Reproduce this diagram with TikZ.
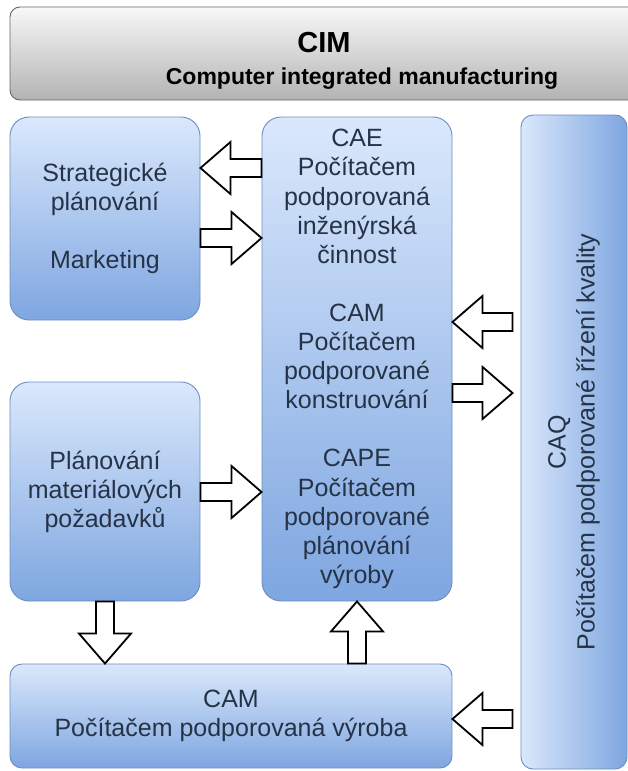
\documentclass[tikz,border=0pt]{standalone}
\usepackage{fontspec}
\setmainfont{Liberation Sans}
\usetikzlibrary{calc}

\definecolor{boxtop}{HTML}{DAE8FC}
\definecolor{boxbot}{HTML}{7EA6E0}
\definecolor{boxline}{HTML}{6C8EBF}
\definecolor{hdrtop}{HTML}{F8F8F8}
\definecolor{hdrbot}{HTML}{B3B3B3}
\definecolor{hdrline}{HTML}{666666}
\definecolor{txt}{HTML}{263347}

% hollow block arrow from coordinate #1 (tail) to coordinate #2 (tip)
\newcommand\fatarrow[2]{%
  \coordinate (fa-h) at ($(#2)!30pt!(#1)$);
  \draw[fatarrow] ($(#1)!9pt!90:(#2)$) -- ($(fa-h)!9pt!90:(#2)$)
    -- ($(fa-h)!26pt!90:(#2)$) -- (#2) -- ($(fa-h)!26pt!-90:(#2)$)
    -- ($(fa-h)!9pt!-90:(#2)$) -- ($(#1)!9pt!-90:(#2)$) -- cycle;
}

\begin{document}
\begin{tikzpicture}[x=1pt,y=-1pt,
  bodytext/.style={text=txt, align=center, font=\fontsize{25}{29.1}\selectfont},
  blkbase/.style={draw=boxline, line width=0.9pt, rounded corners=#1, inner sep=0pt, bodytext},
  blk/.style={blkbase=#1, top color=boxtop, bottom color=boxbot},
  blkh/.style={blkbase=#1, left color=boxtop, right color=boxbot},
  hdrbox/.style={draw=hdrline, line width=0.9pt, top color=hdrtop, bottom color=hdrbot,
    rounded corners=10pt, inner sep=0pt},
  fatarrow/.style={draw=black, fill=white, line width=1.8pt, line join=miter}]

\useasboundingbox (0,0) rectangle (628,771);
\clip (0,0) rectangle (628,771);

% header
\node[hdrbox, minimum width=630pt, minimum height=93pt] (hdr) at (325,53.5) {};
\node[font=\fontsize{29}{32}\bfseries\selectfont, anchor=base] (cim) at (324,52) {CIM};
\node[font=\fontsize{23}{26}\bfseries\selectfont, anchor=base] (cimsub) at (362,84)
  {Computer integrated manufacturing};

% blocks
\node[blk=19pt, minimum width=190pt, minimum height=203pt] (strat) at (105,218.5)
  {Strategické\\plánování\\[29.1pt]Marketing};
\node[blk=19pt, minimum width=190pt, minimum height=219pt] (mat) at (105,491.5)
  {Plánování\\materiálových\\požadavků};
\node[blk=19pt, minimum width=190pt, minimum height=484pt] (cae) at (357,359)
  {CAE\\Počítačem\\podporovaná\\inženýrská\\činnost\\[29.1pt]CAM\\Počítačem\\podporované\\konstruování\\[29.1pt]CAPE\\Počítačem\\podporované\\plánování\\výroby};
\node[blk=12pt, minimum width=442pt, minimum height=104pt] (cam) at (231,716)
  {CAM\\Počítačem podporovaná výroba};

% quality column: shaded left to right, label reads bottom to top
\node[blkh=12pt, minimum width=106pt, minimum height=654pt] (caq) at (574,442) {};
\node[bodytext, rotate=90] (caqlabel) at (caq.center)
  {CAQ\\Počítačem podporované řízení kvality};

% arrow end points
\coordinate (e1t) at (cae.west |- 0,168);  \coordinate (e1h) at (strat.east |- 0,168);
\coordinate (e2t) at (strat.east |- 0,238); \coordinate (e2h) at (cae.west |- 0,238);
\coordinate (e3t) at ($(caq.west |- 0,322)+(-8,0)$); \coordinate (e3h) at (cae.east |- 0,322);
\coordinate (e4t) at (cae.east |- 0,393);  \coordinate (e4h) at ($(caq.west |- 0,393)+(-8,0)$);
\coordinate (e5t) at (mat.east |- 0,492);  \coordinate (e5h) at (cae.west |- 0,492);
\coordinate (e6t) at (mat.south);          \coordinate (e6h) at (mat.south |- cam.north);
\coordinate (e7t) at (cae.south |- cam.north); \coordinate (e7h) at (cae.south);
\coordinate (e8t) at ($(caq.west |- 0,719)+(-8,0)$); \coordinate (e8h) at (cam.east |- 0,719);

\fatarrow{e1t}{e1h}
\fatarrow{e2t}{e2h}
\fatarrow{e3t}{e3h}
\fatarrow{e4t}{e4h}
\fatarrow{e5t}{e5h}
\fatarrow{e6t}{e6h}
\fatarrow{e7t}{e7h}
\fatarrow{e8t}{e8h}
\end{tikzpicture}
\end{document}
